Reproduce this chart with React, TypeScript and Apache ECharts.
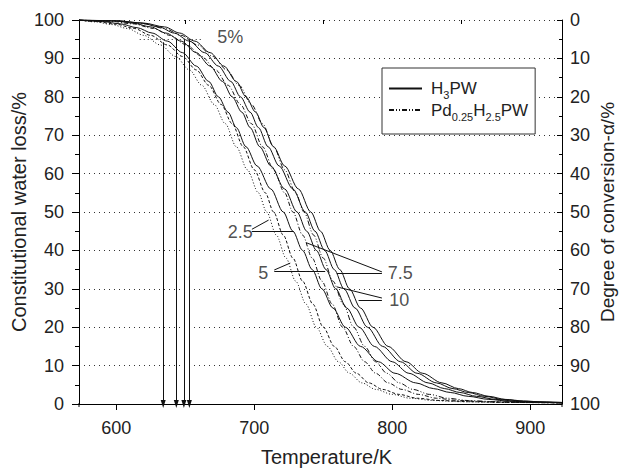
import { useEffect, useRef } from 'react';
import * as echarts from 'echarts';

type Pt = [number, number];

// Constitutional water loss (%) vs temperature (K)
const h3pw10: Pt[] = [[573,100],[600,99.8],[620,99.2],[635,98.2],[646,96.6],[657,94.5],[668,91.5],[678,88],[687,84],[694,80],[701,76],[707,72],[714,67],[722,62],[732,56],[741,50],[748,45],[755,40],[762,35],[769,30],[777,25],[786,20],[797,15],[810,11],[822,8],[836,5.5],[848,4],[858,3],[870,2],[882,1.2],[895,0.8],[910,0.5],[923,0.4]];
const h3pw75: Pt[] = [[573,100],[600,99.8],[618,99.2],[631,98.2],[642,96.6],[653,94.5],[664,91.5],[674,88],[683,84],[690,80],[697,76],[703,72],[710,67],[718,62],[728,56],[737,50],[744,45],[751,40],[758,35],[765,30],[773,25],[782,20],[793,15],[806,11],[818,8],[832,5.5],[844,4],[855,3],[867,2],[880,1.2],[895,0.7],[910,0.5],[923,0.4]];
const h3pw5: Pt[] = [[573,100],[600,99.7],[612,99.2],[625,98.2],[636,96.6],[647,94.5],[658,91.5],[668,88],[677,84],[684,80],[691,76],[697,72],[704,67],[712,62],[722,56],[731,50],[738,45],[745,40],[752,35],[759,30],[767,25],[776,20],[787,15],[800,11],[812,8],[826,5.5],[838,4],[849,3],[861,2],[875,1.2],[890,0.7],[905,0.5],[923,0.3]];
const h3pw25: Pt[] = [[573,100],[590,99.6],[603,99],[615,98],[626,96.6],[637,94.5],[648,91.5],[658,88],[667,84],[674,80],[681,76],[687,72],[694,67],[702,62],[712,56],[721,50],[728,45],[735,40],[742,35],[749,30],[757,25],[766,20],[777,15],[790,11],[802,8],[817,5.5],[830,4],[842,3],[855,2],[870,1.2],[885,0.7],[903,0.5],[923,0.3]];
const pd10: Pt[] = [[573,100],[600,99.7],[620,99],[635,97.8],[647,96],[659,93.5],[670,90.5],[680,87],[689,83],[698,78],[706,73],[714,67],[722,61],[730,55],[736,50],[743,44],[750,38],[757,32],[764.5,26],[772,20],[780,15],[788,11],[796,8],[805,5.5],[815,3.8],[827,2.5],[840,1.5],[855,0.9],[875,0.6],[900,0.4],[923,0.3]];
const pd75: Pt[] = [[573,100],[595,99.7],[612,99],[627,97.8],[639,96],[651,93.5],[662,90.5],[672,87],[681,83],[690,78],[698,73],[706,67],[714,61],[722,55],[728,50],[735,44],[742,38],[749,32],[756.5,26],[764,20],[772,15],[780,11],[788,8],[797,5.5],[807,3.8],[819,2.5],[832,1.5],[848,0.9],[868,0.6],[895,0.4],[923,0.3]];
const pd5: Pt[] = [[573,100],[585,99.6],[600,98.9],[613,97.8],[625,96],[637,93.5],[648,90.5],[658,87],[667,83],[676,78],[684,73],[692,67],[700,61],[708,55],[714,50],[721,44],[728,38],[735,32],[742.5,26],[750,20],[758,15],[766,11],[774,8],[783,5.5],[793,3.8],[805,2.5],[818,1.5],[835,0.9],[855,0.6],[885,0.4],[923,0.3]];
const pd25: Pt[] = [[573,100],[585,99.5],[597,98.8],[608,97.8],[620,96],[632,93.5],[643,90.5],[653,87],[662,83],[671,78],[679,73],[687,67],[695,61],[703,55],[709,50],[716,44],[723,38],[730,32],[737.5,26],[745,20],[753,15],[761,11],[769,8],[778,5.5],[788,3.8],[800,2.5],[813,1.5],[830,0.9],[850,0.6],[880,0.4],[923,0.3]];

// 5 % conversion temperatures (arrows) and their start levels
const arrowTemps = [634, 643.5, 649, 653];
const arrowTops = [94.2, 95, 95, 95];
const fivePctLine: Pt[] = [[617, 95], [663, 95]];

// tick labels
const xTickValues = [600, 700, 800, 900];
const xMinorValues = [650, 750, 850];

// heating-rate annotations and their leader lines
const annoNames = ['5%', '2.5', '5', '7.5', '10'];
const annoAt: Pt[] = [[682.6, 95.6], [689.9, 44.8], [706.5, 34.1], [805.8, 34.1], [805.1, 27.1]];
const leaders: [Pt, Pt][] = [
  [[698.3, 45.5], [710.4, 47.9]],
  [[698.3, 44.9], [728.5, 44.9]],
  [[714.5, 34.9], [726.1, 36.7]],
  [[714.5, 34.6], [751.4, 34.6]],
  [[792.5, 34.4], [737.7, 42.0]],
  [[792.5, 34.1], [759.9, 34.1]],
  [[792.5, 27.6], [759.9, 30.5]],
  [[792.5, 27.1], [775.6, 27.1]],
];

const FONT = 'Liberation Sans, Arial, sans-serif';
const TXT = '#222';

export default function App() {
  const ref = useRef<HTMLDivElement>(null);
  useEffect(() => {
    const chart = echarts.init(ref.current!, null, { renderer: 'svg' });
    const curves = [
      { name: 'H3PW', data: h3pw10, type: 'solid' as any },
      { name: 'H3PW', data: h3pw75, type: 'solid' as any },
      { name: 'H3PW', data: h3pw5, type: 'solid' as any },
      { name: 'H3PW', data: h3pw25, type: 'solid' as any },
      { name: 'Pd0.25H2.5PW', data: pd10, type: [5, 2, 1, 2, 1, 2] },
      { name: 'Pd0.25H2.5PW', data: pd75, type: [4, 2, 1, 2] },
      { name: 'Pd0.25H2.5PW', data: pd5, type: [3, 2] },
      { name: 'Pd0.25H2.5PW', data: pd25, type: [1, 2] },
    ];
    const series: any[] = curves.map((c) => ({
      type: 'line',
      name: c.name,
      data: c.data,
      symbol: 'emptyCircle',
      symbolSize: 0,
      showSymbol: false,
      smooth: 0.3,
      smoothMonotone: 'x',
      lineStyle: { color: '#111', width: 1, type: c.type },
      itemStyle: { color: '#111' },
      silent: true,
    }));
    series[0].markLine = {
      silent: true,
      animation: false,
      label: { show: false },
      lineStyle: { color: '#111', width: 1, type: 'solid' },
      data: arrowTemps.map((t, i) => [
        { coord: [t, arrowTops[i]], symbol: 'none' },
        { coord: [t, 0], symbol: 'triangle', symbolSize: [5, 8], symbolRotate: 180 },
      ]),
    };
    series[1].markLine = {
      silent: true,
      animation: false,
      symbol: 'none',
      label: { show: false },
      lineStyle: { color: '#111', width: 1, type: 'solid' },
      data: leaders.map((l) => [{ coord: l[0] }, { coord: l[1] }]),
    };
    series[2].markLine = {
      silent: true,
      animation: false,
      symbol: 'none',
      label: { show: false },
      lineStyle: { color: '#222', width: 1, type: [1, 3] },
      data: [[{ coord: fivePctLine[0] }, { coord: fivePctLine[1] }]],
    };
    series.push({
      type: 'scatter',
      name: 'annotations',
      symbolSize: 0,
      silent: true,
      data: annoNames.map((n, i) => ({ name: n, value: annoAt[i] })),
      label: {
        show: true,
        position: 'inside',
        formatter: '{b}',
        fontFamily: FONT,
        fontSize: 18,
        color: TXT,
      },
    });

    const option: any = {
      animation: false,
      backgroundColor: '#fff',
      textStyle: { fontFamily: FONT },
      grid: { left: 79, right: 63, top: 20, bottom: 65, containLabel: false, outerBoundsMode: 'none' },
      legend: {
        data: ['H3PW', 'Pd0.25H2.5PW'],
        orient: 'vertical',
        left: 382,
        top: 68,
        padding: [12, 7, 12, 6],
        itemGap: 1,
        itemWidth: 33,
        itemHeight: 14,
        backgroundColor: '#fff',
        borderColor: '#333',
        borderWidth: 1,
        borderRadius: 0,
        selectedMode: false,
        itemStyle: { opacity: 0, color: 'rgba(0,0,0,0)', borderColor: 'rgba(0,0,0,0)', borderWidth: 0 },
        formatter: (name: string) =>
          name === 'H3PW'
            ? '{a|H}{b|3}{a|PW}'
            : '{a|Pd}{b|0.25}{a|H}{b|2.5}{a|PW}',
        textStyle: {
          fontFamily: FONT,
          color: TXT,
          fontSize: 17,
          padding: [0, 0, 0, 4],
          rich: {
            a: { fontFamily: FONT, fontSize: 17, color: TXT, lineHeight: 24 },
            b: { fontFamily: FONT, fontSize: 11, color: TXT, lineHeight: 10, verticalAlign: 'bottom' },
          },
        },
      },
      xAxis: [
        {
          type: 'value',
          min: 573,
          max: 923,
          offset: 3,
          name: 'Temperature/K',
          nameLocation: 'middle',
          nameGap: 40,
          nameMoveOverlap: false,
          nameTextStyle: { fontFamily: FONT, fontSize: 20, color: TXT, padding: [0, 0, 0, 12] },
          axisLine: { show: true, lineStyle: { color: '#000', width: 1 } },
          axisTick: { show: true, length: 6, inside: false, customValues: xTickValues, lineStyle: { color: '#000' } },
          axisLabel: { show: true, customValues: xTickValues, margin: 12, fontFamily: FONT, fontSize: 18, color: TXT },
          splitLine: { show: false },
        },
        {
          type: 'value',
          min: 573,
          max: 923,
          offset: 3,
          position: 'bottom',
          axisLine: { show: false },
          axisTick: { show: true, length: 4, inside: false, customValues: xMinorValues, lineStyle: { color: '#000' } },
          axisLabel: { show: false },
          splitLine: { show: false },
        },
      ],
      yAxis: [
        {
          type: 'value',
          min: 0,
          max: 100,
          interval: 10,
          position: 'left',
          name: 'Constitutional water loss/%',
          nameLocation: 'middle',
          nameGap: 50,
          nameMoveOverlap: false,
          nameTextStyle: { fontFamily: FONT, fontSize: 20, color: TXT },
          axisLine: { show: true, lineStyle: { color: '#000', width: 1 } },
          axisTick: { show: true, length: 7, inside: false, lineStyle: { color: '#000' } },
          minorTick: { show: true, splitNumber: 2, length: 4, lineStyle: { color: '#000' } },
          axisLabel: { margin: 15, fontFamily: FONT, fontSize: 18, color: TXT },
          splitLine: { show: true, lineStyle: { color: '#333', width: 1, type: [1, 4] } },
        },
        {
          type: 'value',
          min: 0,
          max: 100,
          interval: 10,
          inverse: true,
          position: 'right',
          name: 'Degree of conversion-α/%',
          nameLocation: 'middle',
          nameGap: 36,
          nameMoveOverlap: false,
          nameTextStyle: { fontFamily: FONT, fontSize: 19, color: TXT },
          axisLine: { show: true, lineStyle: { color: '#000', width: 1 } },
          axisTick: { show: true, length: 5, inside: true, lineStyle: { color: '#000' } },
          minorTick: { show: true, splitNumber: 2, length: 3, lineStyle: { color: '#000' } },
          axisLabel: { margin: 8, fontFamily: FONT, fontSize: 18, color: TXT },
          splitLine: { show: false },
        },
      ],
      graphic: [
        { type: 'line', shape: { x1: 79, y1: 403, x2: 79, y2: 407 }, style: { stroke: '#000', lineWidth: 1 }, silent: true },
        { type: 'line', shape: { x1: 562, y1: 403, x2: 562, y2: 407 }, style: { stroke: '#000', lineWidth: 1 }, silent: true },
      ],
      series,
    };
    chart.setOption(option);
    return () => chart.dispose();
  }, []);
  return (
    <div
      ref={ref}
      style={{ position: 'fixed', left: 0, top: 0, width: 625, height: 469, background: '#fff' }}
    />
  );
}
